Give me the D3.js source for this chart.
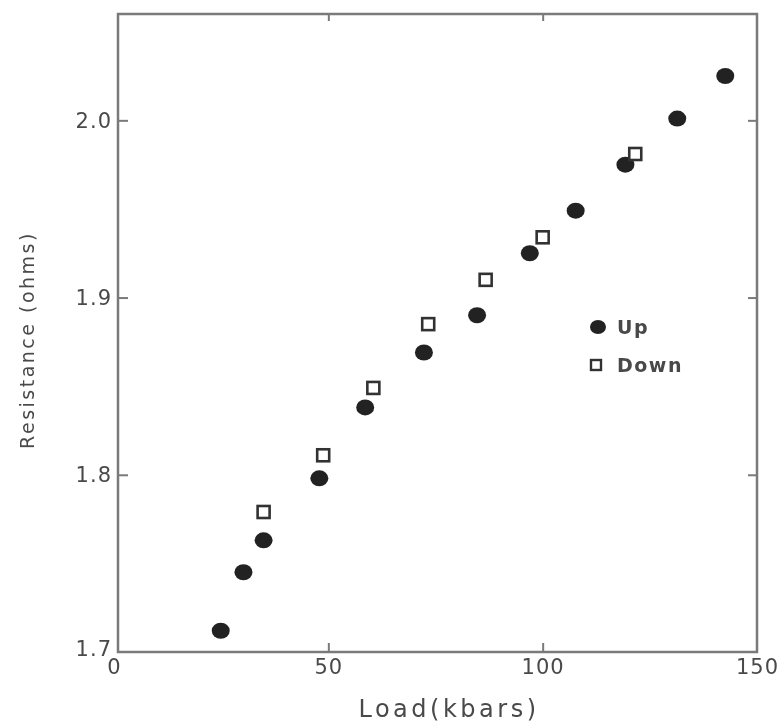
<!DOCTYPE html>
<html>
<head>
<meta charset="utf-8">
<script src="https://cdn.jsdelivr.net/npm/d3@7"></script>
<style>
  body { margin: 0; background: #fff; }
  text { font-family: "DejaVu Sans", sans-serif; fill: #4a4a4a; }
</style>
</head>
<body>
<div id="chart"></div>
<script>
// loads in kbars, resistance in ohms
const upLoad = [24.9, 30.2, 34.9, 47.9, 58.6, 72.3, 84.7, 97.0, 107.7, 119.3, 131.4, 142.6];
const upRes = [1.712, 1.745, 1.763, 1.798, 1.838, 1.869, 1.890, 1.925, 1.949, 1.975, 2.001, 2.025];

const downLoad = [34.9, 48.8, 60.5, 73.3, 86.7, 100.0, 121.6];
const downRes = [1.779, 1.811, 1.849, 1.885, 1.910, 1.934, 1.981];

const xTicks = [0, 50, 100, 150];
const yTicks = [1.7, 1.8, 1.9, 2.0];

const width = 783;
const height = 726;

const svg = d3.select("#chart")
    .append("svg")
    .attr("width", width)
    .attr("height", height);

// soft scan look
svg.append("defs").append("filter")
    .attr("id", "soft")
    .append("feGaussianBlur")
    .attr("stdDeviation", 0.7);

const x = d3.scaleLinear().domain([0, 150]).range([114, 757]);
const y = d3.scaleLinear().domain([1.7, 2.06]).range([652, 14]);

const g = svg.append("g").attr("filter", "url(#soft)");

// FRAME
g.append("rect")
    .attr("x", x(0) + 4)
    .attr("y", y(2.06))
    .attr("width", x(150) - x(0) - 4)
    .attr("height", y(1.7) - y(2.06))
    .attr("fill", "none")
    .attr("stroke", "#7a7a7a")
    .attr("stroke-width", 2.5);

// AXES (ticks pointing inward, on all sides)
const axisColor = "#7a7a7a";

const axBottom = g.append("g")
    .attr("transform", `translate(0,${y(1.7)})`)
    .call(d3.axisBottom(x).tickValues(xTicks).tickSizeInner(-9).tickSizeOuter(0).tickPadding(7).tickFormat(d3.format("d")));

const axTop = g.append("g")
    .attr("transform", `translate(0,${y(2.06)})`)
    .call(d3.axisTop(x).tickValues(xTicks).tickSizeInner(-7).tickSizeOuter(0).tickFormat(""));

const axLeft = g.append("g")
    .attr("transform", `translate(${x(0) + 4},0)`)
    .call(d3.axisLeft(y).tickValues(yTicks).tickSizeInner(-10).tickSizeOuter(0).tickPadding(6).tickFormat(d3.format(".1f")));

const axRight = g.append("g")
    .attr("transform", `translate(${x(150)},0)`)
    .call(d3.axisRight(y).tickValues(yTicks).tickSizeInner(-9).tickSizeOuter(0).tickFormat(""));

[axBottom, axTop, axLeft, axRight].forEach(a => {
    a.select(".domain").remove();
    a.selectAll(".tick line").attr("stroke", axisColor).attr("stroke-width", 2);
    a.selectAll(".tick text")
        .attr("fill", "#4f4f4f")
        .style("font-size", "21px")
        .style("letter-spacing", "1px")
        .style("font-family", "DejaVu Sans, sans-serif");
});

// hide the end ticks that sit on the frame corners
axBottom.selectAll(".tick line").filter(d => d === 0 || d === 150).remove();
axTop.selectAll(".tick line").filter(d => d === 0 || d === 150).remove();
axLeft.selectAll(".tick line").filter(d => d === 1.7).remove();
axRight.selectAll(".tick line").filter(d => d === 1.7).remove();

// pull the 1.7 label up slightly, like the original
axLeft.selectAll(".tick text").filter(d => d === 1.7).attr("dy", "0.15em");

// UP: filled circles
g.selectAll("ellipse.up")
    .data(upLoad.map((v, i) => [v, upRes[i]]))
    .enter()
    .append("ellipse")
    .attr("class", "up")
    .attr("cx", d => x(d[0]))
    .attr("cy", d => y(d[1]))
    .attr("rx", 9)
    .attr("ry", 8)
    .attr("fill", "#222");

// DOWN: open squares
g.selectAll("rect.down")
    .data(downLoad.map((v, i) => [v, downRes[i]]))
    .enter()
    .append("rect")
    .attr("class", "down")
    .attr("x", d => x(d[0]) - 6)
    .attr("y", d => y(d[1]) - 6)
    .attr("width", 12)
    .attr("height", 12)
    .attr("fill", "#fff")
    .attr("stroke", "#333")
    .attr("stroke-width", 2.6);

// LEGEND
const legend = g.append("g");
legend.append("ellipse")
    .attr("cx", 598).attr("cy", 327).attr("rx", 8).attr("ry", 7)
    .attr("fill", "#222");
legend.append("text")
    .attr("x", 617).attr("y", 334)
    .style("font-size", "19px")
    .style("font-weight", "bold")
    .style("letter-spacing", "1.5px")
    .text("Up");
legend.append("rect")
    .attr("x", 591).attr("y", 360).attr("width", 10).attr("height", 10)
    .attr("fill", "#fff").attr("stroke", "#333").attr("stroke-width", 2.4);
legend.append("text")
    .attr("x", 617).attr("y", 372)
    .style("font-size", "19px")
    .style("font-weight", "bold")
    .style("letter-spacing", "1.5px")
    .text("Down");

// AXIS TITLES
g.append("text")
    .attr("x", 449)
    .attr("y", 717)
    .attr("text-anchor", "middle")
    .style("font-size", "24px")
    .style("letter-spacing", "3.5px")
    .text("Load(kbars)");

g.append("text")
    .attr("transform", "translate(27,340) rotate(-90)")
    .attr("text-anchor", "middle")
    .attr("dy", "0.35em")
    .style("font-size", "19px")
    .style("letter-spacing", "2.5px")
    .text("Resistance (ohms)");
</script>
</body>
</html>
